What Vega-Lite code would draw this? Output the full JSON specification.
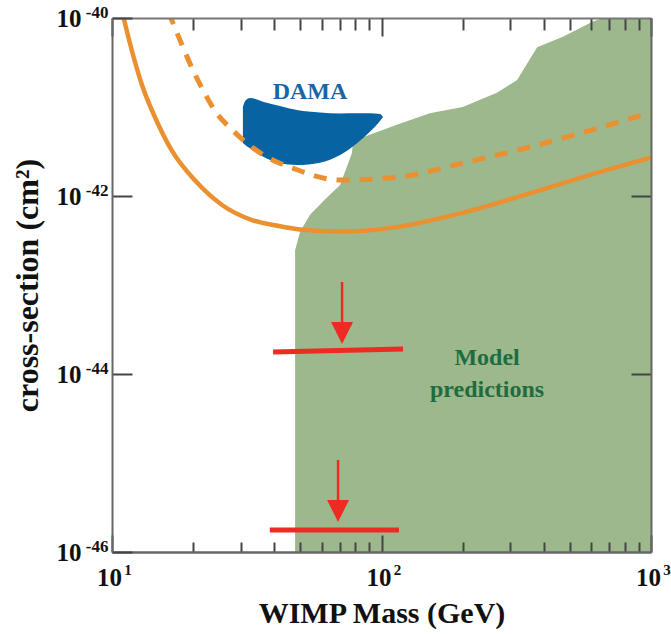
{
  "$schema": "https://vega.github.io/schema/vega-lite/v6.json",
  "autosize": "none",
  "width": 539,
  "height": 534,
  "padding": {"left": 112, "top": 18, "right": 20, "bottom": 82},
  "background": "white",
  "config": {"view": {"stroke": null}, "font": "Liberation Serif"},
  "datasets": {
    "green": [
      {"m": 47.8, "top": 2.45e-43}, {"m": 49.9, "top": 3.98e-43}, {"m": 54.3, "top": 6.17e-43},
      {"m": 61.7, "top": 9.12e-43}, {"m": 70.2, "top": 1.33e-42}, {"m": 77.7, "top": 3.04e-42},
      {"m": 78.3, "top": 3.94e-42}, {"m": 85.3, "top": 4.57e-42}, {"m": 114, "top": 6.31e-42},
      {"m": 151, "top": 8.51e-42}, {"m": 200, "top": 1.0e-41}, {"m": 268, "top": 1.45e-41},
      {"m": 318, "top": 2.0e-41}, {"m": 378, "top": 4.68e-41}, {"m": 471, "top": 6.17e-41},
      {"m": 609, "top": 9.12e-41}, {"m": 664, "top": 1.0e-40}, {"m": 1000, "top": 1.0e-40}
    ],
    "dama": [
      {"m": 30.6, "hi": 1.0e-41, "lo": 3.94e-42}, {"m": 31.2, "hi": 1.167e-41, "lo": 3.74e-42},
      {"m": 32.5, "hi": 1.262e-41, "lo": 3.44e-42}, {"m": 36.3, "hi": 1.148e-41, "lo": 2.77e-42},
      {"m": 42.0, "hi": 1.026e-41, "lo": 2.33e-42}, {"m": 48.6, "hi": 9.25e-42, "lo": 2.23e-42},
      {"m": 59.1, "hi": 8.67e-42, "lo": 2.37e-42}, {"m": 70.2, "hi": 8.45e-42, "lo": 2.89e-42},
      {"m": 81.1, "hi": 8.49e-42, "lo": 3.91e-42}, {"m": 90.6, "hi": 8.49e-42, "lo": 5.27e-42},
      {"m": 98.7, "hi": 8.34e-42, "lo": 6.97e-42}, {"m": 101.3, "hi": 7.73e-42, "lo": 7.73e-42}
    ],
    "solid": [
      {"m": 10.89, "s": 1.2e-40}, {"m": 11.05, "s": 1.0e-40}, {"m": 11.86, "s": 4.26e-41},
      {"m": 12.92, "s": 1.77e-41}, {"m": 14.48, "s": 7.52e-42}, {"m": 16.7, "s": 3.21e-42},
      {"m": 20.38, "s": 1.48e-42}, {"m": 25.6, "s": 7.93e-43}, {"m": 33.07, "s": 5.37e-43},
      {"m": 41.55, "s": 4.6e-43}, {"m": 49.9, "s": 4.2e-43}, {"m": 70.2, "s": 3.98e-43},
      {"m": 114, "s": 4.47e-43}, {"m": 200, "s": 6.46e-43}, {"m": 355, "s": 1.07e-42},
      {"m": 631, "s": 1.82e-42}, {"m": 1000, "s": 2.69e-42}
    ],
    "dashed": [
      {"m": 16.2, "s": 1.17e-40}, {"m": 18.18, "s": 5.01e-41}, {"m": 19.81, "s": 2.74e-41},
      {"m": 21.89, "s": 1.5e-41}, {"m": 24.17, "s": 8.95e-42}, {"m": 27.88, "s": 5.56e-42},
      {"m": 32.16, "s": 3.77e-42}, {"m": 38.14, "s": 2.67e-42}, {"m": 46.55, "s": 2.07e-42},
      {"m": 70.2, "s": 1.51e-42}, {"m": 114, "s": 1.62e-42}, {"m": 200, "s": 2.34e-42},
      {"m": 355, "s": 3.55e-42}, {"m": 631, "s": 5.75e-42}, {"m": 1000, "s": 8.7e-42}
    ],
    "redlines": [
      {"m": 39.6, "s": 1.77e-44, "g": "a"}, {"m": 120.2, "s": 1.91e-44, "g": "a"},
      {"m": 38.5, "s": 1.77e-46, "g": "b"}, {"m": 116.1, "s": 1.77e-46, "g": "b"}
    ],
    "arrows": [
      {"m": 71.4, "s1": 1.08e-43, "s2": 3.84e-44, "tip": 2.89e-44},
      {"m": 69.0, "s1": 1.08e-45, "s2": 3.84e-46, "tip": 2.89e-46}
    ],
    "labels": [
      {"m": 54.3, "s": 1.476e-41, "text": "DAMA", "c": "dama"},
      {"m": 246.4, "s": 1.514e-44, "text": "Model", "c": "model"},
      {"m": 246.4, "s": 6.61e-45, "text": "predictions", "c": "model"}
    ]
  },
  "resolve": {"axis": {"x": "independent", "y": "independent"}},
  "layer": [
    {
      "data": {"name": "green"},
      "mark": {"type": "area", "color": "#9db88d", "clip": true, "interpolate": "linear"},
      "encoding": {
        "x": {"field": "m", "type": "quantitative",
          "scale": {"type": "log", "domain": [10, 1000], "nice": false},
          "axis": {"orient": "bottom", "values": [20, 30, 40, 50, 60, 70, 80, 90, 200, 300, 400, 500, 600, 700, 800, 900],
            "labels": false, "title": null, "tickSize": -10, "tickWidth": 2, "tickColor": "#444",
            "domain": true, "domainColor": "#666", "domainWidth": 2, "grid": false, "zindex": 1}},
        "y": {"field": "top", "type": "quantitative",
          "scale": {"type": "log", "domain": [1e-46, 1e-40], "nice": false},
          "axis": {"orient": "left", "values": [1e-46, 1e-44, 1e-42, 1e-40],
            "labelExpr": "'10'", "labelOverlap": false, "labelBound": false,
            "tickSize": -20, "tickWidth": 2, "tickColor": "#444", "labelPadding": 51,
            "labelFont": "Liberation Serif", "labelFontWeight": "bold", "labelFontSize": 25, "labelColor": "#111",
            "title": "cross-section (cm²)", "titleFont": "Liberation Serif", "titleFontWeight": "bold", "titleFontSize": 32,
            "titleColor": "#111", "titlePadding": 12,
            "domain": true, "domainColor": "#666", "domainWidth": 2, "grid": false, "zindex": 1}},
        "y2": {"datum": 1e-46}
      }
    },
    {
      "data": {"name": "dama"},
      "mark": {"type": "area", "color": "#0863a3", "clip": true, "interpolate": "monotone"},
      "encoding": {
        "x": {"field": "m", "type": "quantitative",
          "axis": {"orient": "bottom", "values": [10, 100, 1000],
            "labelExpr": "'10'", "labelOverlap": false, "labelBound": false, "labelOffset": -3,
            "tickSize": -17, "tickWidth": 2, "tickColor": "#444", "labelPadding": 30,
            "labelFont": "Liberation Serif", "labelFontWeight": "bold", "labelFontSize": 25, "labelColor": "#111",
            "labelFlush": false,
            "title": "WIMP Mass (GeV)", "titleFont": "Liberation Serif", "titleFontWeight": "bold", "titleFontSize": 30,
            "titleColor": "#111", "titlePadding": 8,
            "domain": true, "domainColor": "#666", "domainWidth": 2, "grid": false, "zindex": 1}},
        "y": {"field": "hi", "type": "quantitative",
          "axis": {"orient": "right", "values": [1e-44, 1e-42], "labels": false, "title": null,
            "tickSize": -20, "tickWidth": 2, "tickColor": "#444",
            "domain": true, "domainColor": "#666", "domainWidth": 2, "grid": false, "zindex": 1}},
        "y2": {"field": "lo"}
      }
    },
    {
      "data": {"name": "solid"},
      "mark": {"type": "line", "color": "#ea9030", "strokeWidth": 4.5, "clip": true, "interpolate": "monotone"},
      "encoding": {
        "x": {"field": "m", "type": "quantitative",
          "axis": {"orient": "top", "values": [20, 30, 40, 50, 60, 70, 80, 90, 200, 300, 400, 500, 600, 700, 800, 900],
            "labels": false, "title": null, "tickSize": -12, "tickWidth": 2, "tickColor": "#444",
            "domain": true, "domainColor": "#777", "domainWidth": 2, "grid": false, "zindex": 1}},
        "y": {"field": "s", "type": "quantitative", "axis": null}
      }
    },
    {
      "data": {"name": "dashed"},
      "mark": {"type": "line", "color": "#ea9030", "strokeWidth": 5, "strokeDash": [13, 10], "clip": true, "interpolate": "monotone"},
      "encoding": {
        "x": {"field": "m", "type": "quantitative",
          "axis": {"orient": "top", "values": [10, 100, 1000],
            "labels": false, "title": null, "tickSize": -18, "tickWidth": 2, "tickColor": "#444",
            "domain": false, "grid": false, "zindex": 1}},
        "y": {"field": "s", "type": "quantitative", "axis": null}
      }
    },
    {
      "data": {"name": "redlines"},
      "mark": {"type": "line", "color": "#ee2b22", "strokeWidth": 5, "clip": true},
      "encoding": {
        "x": {"field": "m", "type": "quantitative",
          "axis": {"orient": "bottom", "values": [10, 100, 1000],
            "labelExpr": "datum.value < 20 ? '1' : datum.value < 200 ? '2' : '3'",
            "labelOverlap": false, "labelBound": false, "labelFlush": false, "labelOffset": 15.5,
            "ticks": false, "tickSize": 0, "labelPadding": 10, "domain": false, "grid": false, "title": null,
            "labelFont": "Liberation Serif", "labelFontWeight": "bold", "labelFontSize": 15, "labelColor": "#111", "zindex": 1}},
        "y": {"field": "s", "type": "quantitative", "axis": null},
        "detail": {"field": "g"}
      }
    },
    {
      "data": {"name": "arrows"},
      "mark": {"type": "rule", "color": "#ee2b22", "strokeWidth": 2.5},
      "encoding": {
        "x": {"field": "m", "type": "quantitative", "axis": null},
        "y": {"field": "s1", "type": "quantitative",
          "axis": {"orient": "left", "values": [1e-46, 1e-44, 1e-42, 1e-40],
            "labelExpr": "datum.value < 2e-46 ? '-46' : datum.value < 2e-44 ? '-44' : datum.value < 2e-42 ? '-42' : '-40'",
            "labelOverlap": false, "labelBound": false, "labelOffset": -6,
            "ticks": false, "tickSize": 0, "labelPadding": 4, "domain": false, "grid": false, "title": null,
            "labelFont": "Liberation Serif", "labelFontWeight": "bold", "labelFontSize": 17, "labelColor": "#111", "zindex": 1}},
        "y2": {"field": "s2"}
      }
    },
    {
      "data": {"name": "arrows"},
      "mark": {"type": "point", "shape": "M-1,-1L1,-1L0,1Z", "filled": true, "color": "#ee2b22", "opacity": 1, "size": 484},
      "encoding": {
        "x": {"field": "m", "type": "quantitative", "axis": null},
        "y": {"field": "tip", "type": "quantitative", "axis": null}
      }
    },
    {
      "data": {"name": "labels"},
      "mark": {"type": "text", "font": "Liberation Serif", "fontWeight": "bold", "fontSize": 24, "align": "center", "baseline": "middle"},
      "encoding": {
        "x": {"field": "m", "type": "quantitative", "axis": null},
        "y": {"field": "s", "type": "quantitative", "axis": null},
        "text": {"field": "text"},
        "color": {"field": "c", "type": "nominal", "scale": {"domain": ["dama", "model"], "range": ["#1866a8", "#1f6d3f"]}, "legend": null}
      }
    }
  ]
}
